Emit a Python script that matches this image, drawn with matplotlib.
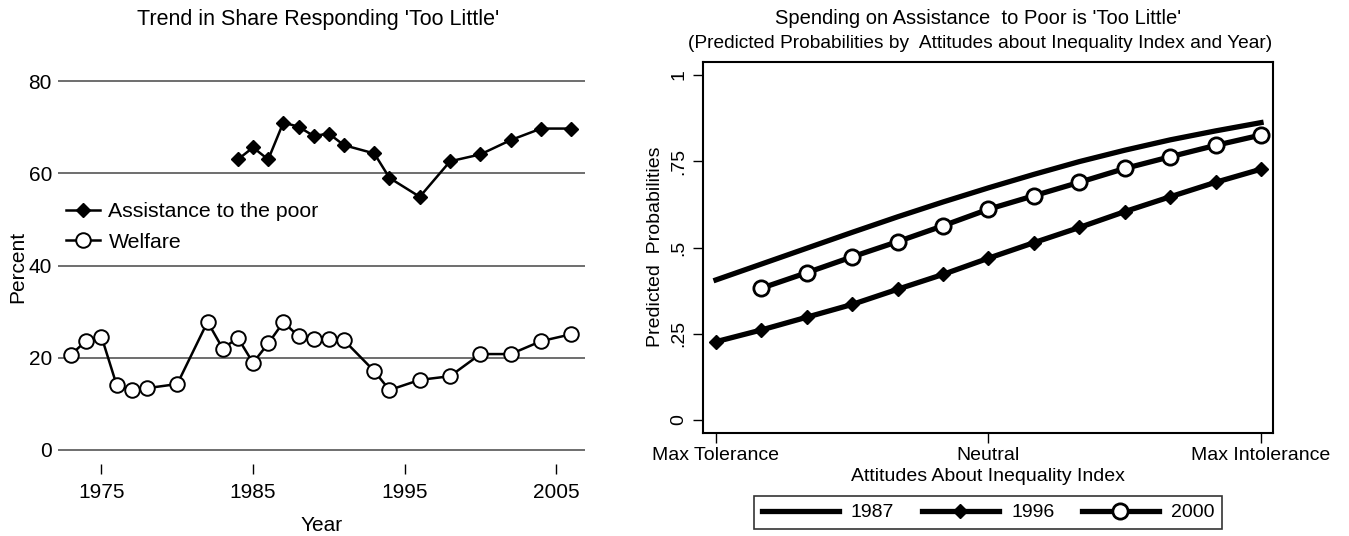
import matplotlib.pyplot as plt

plt.rcParams['font.family'] = ['Liberation Sans', 'DejaVu Sans']

W, H = 1349, 536

# left panel: GSS share saying spending is 'too little'
years_poor = [1984, 1985, 1986, 1987, 1988, 1989, 1990, 1991, 1993, 1994,
              1996, 1998, 2000, 2002, 2004, 2006]
poor = [63.0, 65.6, 63.0, 71.0, 70.1, 68.1, 68.6, 66.1, 64.3, 59.0,
        54.9, 62.6, 64.1, 67.2, 69.7, 69.7]
years_welfare = [1973, 1974, 1975, 1976, 1977, 1978, 1980, 1982, 1983, 1984,
                 1985, 1986, 1987, 1988, 1989, 1990, 1991, 1993, 1994, 1996,
                 1998, 2000, 2002, 2004, 2006]
welfare = [20.7, 23.7, 24.6, 14.1, 12.9, 13.4, 14.3, 27.8, 22.0, 24.3,
           18.9, 23.1, 27.7, 24.7, 24.1, 24.1, 23.8, 17.1, 13.0, 15.2,
           16.0, 20.8, 20.8, 23.6, 25.1]

# right panel: predicted probabilities over the index
index_pts = [0, 1, 2, 3, 4, 5, 6, 7, 8, 9, 10, 11, 12]
p1987 = [0.406, 0.452, 0.498, 0.544, 0.589, 0.632, 0.673, 0.712, 0.749,
         0.782, 0.812, 0.838, 0.862]
p1996 = [0.227, 0.261, 0.298, 0.335, 0.379, 0.422, 0.469, 0.514, 0.558,
         0.604, 0.647, 0.689, 0.727]
index_2000 = index_pts[1:]
p2000 = [0.382, 0.427, 0.473, 0.517, 0.563, 0.611, 0.650, 0.689, 0.729,
         0.763, 0.796, 0.826]
xtick_pos = [0, 6, 12]
xtick_lab = ['Max Tolerance', 'Neutral', 'Max Intolerance']
ytick_pos = [0, 0.25, 0.5, 0.75, 1]
ytick_lab = ['0', '.25', '.5', '.75', '1']


def box(x0, y0, x1, y1):
    return [x0 / W, 1 - y1 / H, (x1 - x0) / W, (y1 - y0) / H]


fig = plt.figure(figsize=(W / 100, H / 100), dpi=100)

# ---- left
ax = fig.add_axes(box(57.5, 70, 585, 464))
ax.plot(years_poor, poor, color='black', lw=1.8, marker='D', ms=7,
        mfc='black', mec='black', label='Assistance to the poor')
ax.plot(years_welfare, welfare, color='black', lw=1.8, marker='o', ms=10.5,
        mfc='white', mec='black', mew=1.4, label='Welfare')
ax.set_xlim(1972.1, 2006.9)
ax.set_ylim(-3.04, 82.4)
ax.set_yticks([0, 20, 40, 60, 80])
ax.set_xticks([1975, 1985, 1995, 2005])
ax.grid(axis='y', color='#555555', lw=1.2)
ax.set_axisbelow(True)
for s in ax.spines.values():
    s.set_visible(False)
ax.tick_params(axis='y', length=0, pad=4, labelsize=15)
ax.tick_params(axis='x', length=7, width=1, pad=7, labelsize=15)
ax.set_xlabel('Year', fontsize=15, labelpad=10)
ax.set_ylabel('Percent', fontsize=15)
ax.yaxis.set_label_coords(-0.058, 0.5)
ax.legend(loc='upper left', bbox_to_anchor=(66 / W, 1 - 202 / H),
          bbox_transform=fig.transFigure, frameon=False, fontsize=15.3,
          numpoints=1, handlelength=1.6, handletextpad=0.4,
          borderpad=0, borderaxespad=0, labelspacing=0.55)
fig.text(318 / W, 1 - 20 / H, "Trend in Share Responding 'Too Little'",
         ha='center', va='center', fontsize=15.5)

# ---- right
ax2 = fig.add_axes(box(703, 62, 1273, 433))
ax2.plot(index_pts, p1987, color='black', lw=3.8, label='1987')
ax2.plot(index_pts, p1996, color='black', lw=3.8, marker='D', ms=7.5,
         mfc='black', mec='black', label='1996')
ax2.plot(index_2000, p2000, color='black', lw=3.8, marker='o', ms=11,
         mfc='white', mec='black', mew=2, label='2000')
ax2.set_xlim(-0.286, 12.264)
ax2.set_ylim(-0.0377, 1.0377)
ax2.set_xticks(xtick_pos)
ax2.set_xticklabels(xtick_lab)
ax2.set_yticks(ytick_pos)
ax2.set_yticklabels(ytick_lab, rotation=90, va='center')
for s in ax2.spines.values():
    s.set_linewidth(1.5)
ax2.tick_params(axis='both', length=7, width=1, labelsize=14)
ax2.tick_params(axis='x', pad=3)
ax2.tick_params(axis='y', pad=4)
ax2.set_xlabel('Attitudes About Inequality Index', fontsize=14, labelpad=3)
fig.text(656 / W, 1 - 247 / H, 'Predicted  Probabilities', rotation=90,
         ha='center', va='center', fontsize=14)
leg = ax2.legend(loc='upper center', bbox_to_anchor=(988 / W, 1 - 496 / H),
                 bbox_transform=fig.transFigure, ncol=3, fontsize=14,
                 numpoints=1, handlelength=4, handletextpad=0.6,
                 columnspacing=1.4, fancybox=False, borderpad=0.4,
                 borderaxespad=0)
leg.get_frame().set_edgecolor('black')
leg.get_frame().set_linewidth(1.2)
fig.text(978 / W, 1 - 19 / H, "Spending on Assistance  to Poor is 'Too Little'",
         ha='center', va='center', fontsize=14.5)
fig.text(980 / W, 1 - 44 / H,
         "(Predicted Probabilities by  Attitudes about Inequality Index and Year)",
         ha='center', va='center', fontsize=13.8)

fig.savefig('out.png', dpi=100)
